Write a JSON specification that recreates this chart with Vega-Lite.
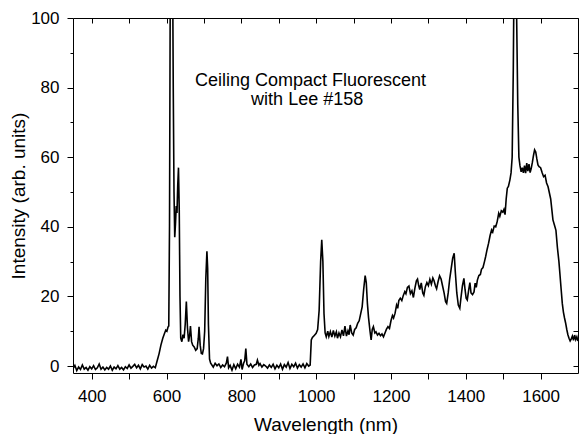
{
"$schema": "https://vega.github.io/schema/vega-lite/v6.json",
"width": 505, "height": 355,
"autosize": "none",
"padding": {"left": 73, "top": 18, "right": 1, "bottom": 61},
"background": "white",
"config": {"view": {"stroke": null}, "font": "Liberation Sans"},
"datasets": {
"spec": [
{"wl":350,"v":-0.8},{"wl":355,"v":0.2},{"wl":360,"v":-1.3},{"wl":365,"v":-0.3},{"wl":370,"v":-1.0},{"wl":375,"v":0.3},{"wl":380,"v":-0.9},{"wl":385,"v":-0.4},{"wl":390,"v":-1.2},{"wl":395,"v":-0.2},
{"wl":400,"v":-0.8},{"wl":405,"v":0.1},{"wl":410,"v":-1.0},{"wl":415,"v":-0.5},{"wl":420,"v":0.6},{"wl":425,"v":-0.9},{"wl":430,"v":-0.3},{"wl":435,"v":-1.1},{"wl":440,"v":-0.4},{"wl":445,"v":-0.9},
{"wl":450,"v":0.0},{"wl":455,"v":-1.2},{"wl":460,"v":-0.3},{"wl":465,"v":-0.8},{"wl":470,"v":0.1},{"wl":475,"v":-0.9},{"wl":480,"v":-0.4},{"wl":485,"v":-1.1},{"wl":490,"v":-0.2},{"wl":495,"v":-0.7},
{"wl":500,"v":0.3},{"wl":505,"v":-0.6},{"wl":510,"v":-0.1},{"wl":515,"v":0.5},{"wl":520,"v":-0.5},{"wl":525,"v":0.2},{"wl":530,"v":-0.8},{"wl":535,"v":0.4},{"wl":540,"v":-0.3},{"wl":545,"v":0.0},
{"wl":550,"v":-0.9},{"wl":555,"v":0.2},{"wl":560,"v":-0.6},{"wl":565,"v":-0.1},{"wl":570,"v":-0.5},
{"wl":575,"v":1.5},{"wl":580,"v":3.5},{"wl":585,"v":6.0},{"wl":590,"v":8.0},{"wl":595,"v":9.5},{"wl":598,"v":10.3},{"wl":601,"v":10.0},{"wl":604,"v":11.2},{"wl":606,"v":11.5},
{"wl":608,"v":40},{"wl":610,"v":110},{"wl":613,"v":135},{"wl":616,"v":120},{"wl":618,"v":80},{"wl":620,"v":50},{"wl":622,"v":37},{"wl":624,"v":41},{"wl":626,"v":46},{"wl":628,"v":44},
{"wl":630,"v":52},{"wl":632,"v":57},{"wl":634,"v":45},{"wl":636,"v":20},{"wl":638,"v":8},{"wl":641,"v":7},{"wl":644,"v":9},{"wl":647,"v":8},{"wl":650,"v":12},{"wl":653,"v":18.5},
{"wl":656,"v":11},{"wl":659,"v":7},{"wl":662,"v":9},{"wl":664,"v":11.5},{"wl":667,"v":7},{"wl":670,"v":6},{"wl":674,"v":5.5},{"wl":678,"v":4.5},{"wl":682,"v":5},{"wl":685,"v":8},
{"wl":687,"v":11.3},{"wl":690,"v":6},{"wl":693,"v":3.6},{"wl":696,"v":3.5},{"wl":699,"v":5},{"wl":702,"v":10},{"wl":705,"v":25},{"wl":708,"v":33},{"wl":710,"v":28},{"wl":712,"v":12},
{"wl":715,"v":2},{"wl":718,"v":0.8},{"wl":720,"v":0.5},{"wl":725,"v":-0.3},{"wl":730,"v":0.8},{"wl":735,"v":0.1},{"wl":740,"v":0.6},{"wl":745,"v":-0.4},{"wl":750,"v":0.3},{"wl":755,"v":-0.2},
{"wl":760,"v":0.9},{"wl":763,"v":2.7},{"wl":766,"v":-0.5},{"wl":770,"v":0.2},{"wl":775,"v":-1.2},{"wl":780,"v":0.4},{"wl":785,"v":-0.8},{"wl":790,"v":0.5},{"wl":795,"v":-0.3},{"wl":799,"v":1.9},
{"wl":802,"v":-1.0},{"wl":806,"v":0.8},{"wl":809,"v":1.5},{"wl":812,"v":5.0},{"wl":815,"v":0.5},{"wl":820,"v":-0.2},{"wl":825,"v":0.6},{"wl":830,"v":-0.4},{"wl":835,"v":0.3},{"wl":840,"v":0.5},
{"wl":843,"v":1.7},{"wl":847,"v":0.2},{"wl":850,"v":0.7},{"wl":855,"v":-0.3},{"wl":860,"v":0.4},{"wl":865,"v":0.0},{"wl":870,"v":-0.6},{"wl":875,"v":0.3},{"wl":880,"v":-0.4},{"wl":885,"v":0.5},
{"wl":890,"v":-0.8},{"wl":895,"v":0.2},{"wl":900,"v":-0.5},{"wl":905,"v":0.6},{"wl":910,"v":-0.9},{"wl":915,"v":0.4},{"wl":920,"v":-0.3},{"wl":925,"v":1.0},{"wl":930,"v":-0.7},{"wl":935,"v":0.5},
{"wl":940,"v":-0.2},{"wl":945,"v":0.8},{"wl":950,"v":-0.6},{"wl":955,"v":0.4},{"wl":960,"v":-0.3},{"wl":965,"v":0.6},{"wl":970,"v":-0.5},{"wl":975,"v":0.7},{"wl":980,"v":0.0},{"wl":984,"v":0.3},
{"wl":987,"v":7.5},{"wl":990,"v":8.2},{"wl":995,"v":8.8},{"wl":1000,"v":9.4},{"wl":1004,"v":10.5},{"wl":1008,"v":16},{"wl":1012,"v":30},{"wl":1015,"v":36.3},{"wl":1018,"v":30},{"wl":1021,"v":15},
{"wl":1024,"v":9.5},{"wl":1027,"v":8.4},{"wl":1031,"v":10},{"wl":1034,"v":8.5},{"wl":1038,"v":9.9},{"wl":1042,"v":8.3},{"wl":1046,"v":10.2},{"wl":1050,"v":8.6},{"wl":1054,"v":9.8},{"wl":1057,"v":8.0},
{"wl":1061,"v":9.5},{"wl":1065,"v":8.4},{"wl":1069,"v":10.4},{"wl":1073,"v":8.7},{"wl":1077,"v":11.5},{"wl":1081,"v":8.6},{"wl":1085,"v":10.1},{"wl":1088,"v":9.0},{"wl":1091,"v":11.8},{"wl":1095,"v":9.5},
{"wl":1099,"v":8.9},{"wl":1103,"v":10.5},{"wl":1107,"v":11.0},{"wl":1111,"v":12.3},{"wl":1115,"v":13},{"wl":1119,"v":15},{"wl":1123,"v":17},{"wl":1127,"v":22},{"wl":1131,"v":26},{"wl":1134,"v":24},
{"wl":1137,"v":18},{"wl":1140,"v":14},{"wl":1144,"v":10},{"wl":1147,"v":7.5},{"wl":1150,"v":10.5},{"wl":1153,"v":11.3},{"wl":1157,"v":9.5},{"wl":1160,"v":9.8},{"wl":1164,"v":8.9},{"wl":1168,"v":9.4},
{"wl":1172,"v":8.7},{"wl":1176,"v":9.2},{"wl":1180,"v":8.4},{"wl":1184,"v":9.5},{"wl":1188,"v":10.6},{"wl":1192,"v":11.3},{"wl":1196,"v":10.8},{"wl":1200,"v":13.0},{"wl":1204,"v":14.5},{"wl":1207,"v":13.8},
{"wl":1211,"v":15.2},{"wl":1215,"v":17.5},{"wl":1218,"v":16.6},{"wl":1221,"v":18.8},{"wl":1225,"v":19.5},{"wl":1229,"v":18.8},{"wl":1233,"v":20.3},{"wl":1237,"v":21.4},{"wl":1240,"v":20.8},{"wl":1244,"v":22.6},
{"wl":1248,"v":23.0},{"wl":1252,"v":20.8},{"wl":1256,"v":21.6},{"wl":1260,"v":19.7},{"wl":1264,"v":22.4},{"wl":1268,"v":24.5},{"wl":1271,"v":25.0},{"wl":1274,"v":23.2},{"wl":1277,"v":22.0},{"wl":1281,"v":23.9},
{"wl":1285,"v":21.0},{"wl":1288,"v":20.3},{"wl":1292,"v":22.8},{"wl":1296,"v":24.0},{"wl":1300,"v":23.1},{"wl":1304,"v":24.9},{"wl":1308,"v":23.5},{"wl":1312,"v":25.3},{"wl":1315,"v":24.6},{"wl":1319,"v":23.0},
{"wl":1322,"v":22.2},{"wl":1326,"v":24.3},{"wl":1330,"v":25.9},{"wl":1334,"v":25.0},{"wl":1338,"v":23.0},{"wl":1342,"v":21.0},{"wl":1346,"v":18.5},{"wl":1349,"v":18.0},{"wl":1353,"v":21},{"wl":1357,"v":25},
{"wl":1361,"v":28},{"wl":1365,"v":31},{"wl":1369,"v":32.4},{"wl":1372,"v":27},{"wl":1376,"v":21},{"wl":1380,"v":17.5},{"wl":1384,"v":16.6},{"wl":1387,"v":19.5},{"wl":1391,"v":23},{"wl":1395,"v":25.2},
{"wl":1398,"v":22},{"wl":1401,"v":19.5},{"wl":1404,"v":19},{"wl":1408,"v":22},{"wl":1411,"v":24},{"wl":1414,"v":21},{"wl":1418,"v":20.5},{"wl":1422,"v":21.3},{"wl":1425,"v":23.8},{"wl":1428,"v":22.6},
{"wl":1431,"v":24.7},{"wl":1435,"v":26.0},{"wl":1439,"v":26.3},{"wl":1442,"v":27.8},{"wl":1446,"v":28.3},{"wl":1450,"v":30.0},{"wl":1453,"v":31.4},{"wl":1457,"v":33.5},{"wl":1461,"v":35.3},{"wl":1465,"v":37.5},
{"wl":1469,"v":39.1},{"wl":1472,"v":38.5},{"wl":1476,"v":40.2},{"wl":1480,"v":40.0},{"wl":1484,"v":41.5},{"wl":1488,"v":43.9},{"wl":1491,"v":43.0},{"wl":1495,"v":44.6},{"wl":1499,"v":44.2},{"wl":1502,"v":45.0},
{"wl":1505,"v":43.5},{"wl":1508,"v":48},{"wl":1511,"v":51.1},{"wl":1514,"v":51.6},{"wl":1518,"v":53.5},{"wl":1521,"v":55.5},{"wl":1524,"v":60},{"wl":1527,"v":85},{"wl":1530,"v":125},{"wl":1533,"v":130},
{"wl":1536,"v":100},{"wl":1539,"v":75},{"wl":1542,"v":60},{"wl":1545,"v":57.5},{"wl":1548,"v":55.8},{"wl":1551,"v":57.0},{"wl":1554,"v":55.5},{"wl":1557,"v":57.6},{"wl":1560,"v":55.4},{"wl":1563,"v":58.3},
{"wl":1566,"v":56.0},{"wl":1569,"v":58.0},{"wl":1572,"v":55.6},{"wl":1575,"v":56.8},{"wl":1578,"v":58.5},{"wl":1581,"v":60.5},{"wl":1584,"v":62.1},{"wl":1587,"v":61.5},{"wl":1590,"v":59.5},{"wl":1593,"v":57.8},
{"wl":1596,"v":57.3},{"wl":1600,"v":57.0},{"wl":1604,"v":55.6},{"wl":1608,"v":54.4},{"wl":1612,"v":54.8},{"wl":1616,"v":52.6},{"wl":1620,"v":51.5},{"wl":1623,"v":50.0},{"wl":1627,"v":48.0},{"wl":1630,"v":45.0},
{"wl":1633,"v":42.0},{"wl":1637,"v":40.5},{"wl":1641,"v":39.0},{"wl":1645,"v":34.0},{"wl":1649,"v":30.0},{"wl":1652,"v":26.0},{"wl":1655,"v":22.0},{"wl":1658,"v":18.0},{"wl":1661,"v":15.5},{"wl":1664,"v":13.8},
{"wl":1667,"v":12.3},{"wl":1670,"v":10.5},{"wl":1673,"v":9.0},{"wl":1676,"v":8.0},{"wl":1679,"v":7.2},{"wl":1682,"v":7.8},{"wl":1685,"v":8.6},{"wl":1688,"v":7.4},{"wl":1691,"v":8.9},{"wl":1694,"v":7.6},
{"wl":1697,"v":8.4},{"wl":1700,"v":7.2}
],
"notes": [
{"wl": 985, "v": 81.9, "t": "Ceiling Compact Fluorescent"},
{"wl": 976, "v": 76.3, "t": "with Lee #158"}
]
},
"layer": [
{
"data": {"name": "spec"},
"mark": {"type": "line", "color": "black", "strokeWidth": 1.6, "clip": true, "interpolate": "linear"},
"encoding": {
"x": {"field": "wl", "type": "quantitative",
"scale": {"domain": [350, 1700], "nice": false, "zero": false},
"axis": {"orient": "bottom", "title": "Wavelength (nm)", "format": "d",
"values": [400,500,600,700,800,900,1000,1100,1200,1300,1400,1500,1600],
"labelExpr": "datum.value % 200 == 0 ? datum.label : ''",
"grid": false, "domainColor": "black", "domainWidth": 1, "tickColor": "black", "tickWidth": 1, "tickSize": 6,
"labelFont": "Liberation Sans", "labelFontSize": 17, "labelColor": "black", "labelPadding": 9,
"titleFont": "Liberation Sans", "titleFontSize": 19, "titleFontWeight": "normal", "titleColor": "black", "titlePadding": 11}},
"y": {"field": "v", "type": "quantitative",
"scale": {"domain": [-2, 100], "nice": false, "zero": false},
"axis": {"orient": "left", "title": "Intensity (arb. units)", "format": "d",
"values": [0,10,20,30,40,50,60,70,80,90,100],
"labelExpr": "datum.value % 20 == 0 ? datum.label : ''",
"grid": false, "domainColor": "black", "domainWidth": 1, "tickColor": "black", "tickWidth": 1,
"tickSize": {"condition": {"test": "datum.value % 20 == 0", "value": 6}, "value": 3},
"labelFont": "Liberation Sans", "labelFontSize": 17, "labelColor": "black", "labelPadding": 8,
"titleFont": "Liberation Sans", "titleFontSize": 19, "titleFontWeight": "normal", "titleColor": "black", "titlePadding": 2}}
}
},
{
"data": {"name": "notes"},
"mark": {"type": "text", "font": "Liberation Sans", "fontSize": 18, "align": "center", "baseline": "middle", "color": "black"},
"encoding": {
"x": {"field": "wl", "type": "quantitative",
"scale": {"domain": [350, 1700], "nice": false, "zero": false},
"axis": {"orient": "top", "title": null, "labels": false,
"values": [400,500,600,700,800,900,1000,1100,1200,1300,1400,1500,1600],
"grid": false, "domainColor": "black", "domainWidth": 1, "tickColor": "black", "tickWidth": 1, "tickSize": -5}},
"y": {"field": "v", "type": "quantitative",
"scale": {"domain": [-2, 100], "nice": false, "zero": false},
"axis": {"orient": "right", "title": null, "labels": false,
"values": [0,10,20,30,40,50,60,70,80,90,100],
"grid": false, "domainColor": "black", "domainWidth": 1, "tickColor": "black", "tickWidth": 1, "tickSize": -5}},
"text": {"field": "t"}
}
}
],
"resolve": {"axis": {"x": "independent", "y": "independent"}}
}
